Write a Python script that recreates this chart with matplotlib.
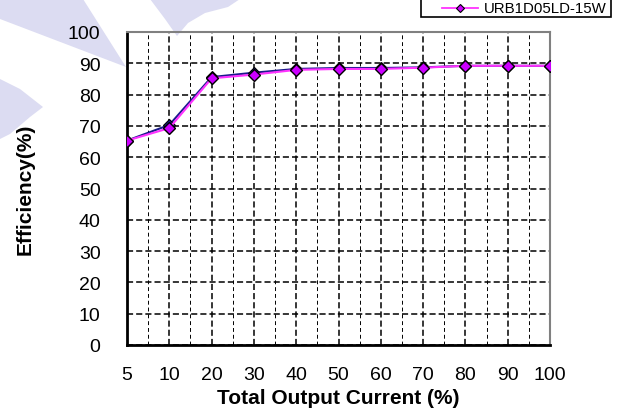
import matplotlib
matplotlib.use("Agg")
import matplotlib.pyplot as plt
from matplotlib.patches import Polygon, Rectangle
from matplotlib.lines import Line2D
import numpy as np

# data
load_labels = ["5", "10", "20", "30", "40", "50", "60", "70", "80", "90", "100"]
eff_15w = [65.3, 69.3, 85.2, 86.4, 87.9, 88.2, 88.2, 88.6, 89.2, 89.2, 89.2]
eff_other = [65.3, 70.3, 85.6, 87.0, 88.2, 88.5, 88.5, 88.7, 89.2, 89.2, 89.2]
y_ticks = [0, 10, 20, 30, 40, 50, 60, 70, 80, 90, 100]
legend_label = "URB1D05LD-15W"

W, H = 632, 414


def px(pts):
    # pixel coords (from top-left) -> figure fraction
    return [[x / W, 1 - y / H] for x, y in pts]


fig = plt.figure(figsize=(W / 100, H / 100), dpi=100)

# faint watermark shapes behind the chart
wm = "#dcdcf2"
for shape in [
    [(0, 0), (83, 0), (126, 68), (0, 20)],
    [(0, 80), (20, 90), (43, 108), (30, 118), (10, 135), (0, 140)],
    [(150, 0), (240, 0), (228, 8), (205, 14), (188, 24), (177, 37), (165, 20)],
]:
    fig.patches.append(Polygon(px(shape), closed=True, transform=fig.transFigure,
                               color=wm, lw=0, zorder=-5))

ax = fig.add_axes([127 / W, 1 - 346 / H, (550 - 127) / W, (346 - 33) / H])
ax.patch.set_alpha(0)

x = np.arange(len(load_labels))
ax.plot(x, eff_other, color="#1a1a8c", lw=1.5, marker="D", ms=6,
        mfc="#1a1a8c", mec="black", mew=0.8, zorder=3)
ax.plot(x, eff_15w, color="#ff33ff", lw=1.5, marker="D", ms=6.5,
        mfc="#cc00ff", mec="black", mew=1.0, zorder=4)

ax.set_xlim(0, len(load_labels) - 1)
ax.set_ylim(0, 100)
ax.set_xticks(x)
ax.set_xticklabels(load_labels)
ax.set_xticks(x[:-1] + 0.5, minor=True)
ax.set_yticks(y_ticks)
ax.xaxis.set_tick_params(which="both", length=0, pad=15)
ax.yaxis.set_tick_params(which="both", length=0, pad=19)
for lab in ax.get_xticklabels() + ax.get_yticklabels():
    lab.set_family("Liberation Sans")
    lab.set_fontsize(14)

ax.grid(True, which="major", axis="both", color="black", ls=(0, (4, 2)), lw=1.1)
ax.grid(True, which="minor", axis="x", color="black", ls=(0, (4, 3)), lw=0.7)

for side in ["top", "right"]:
    ax.spines[side].set_color("#808080")
    ax.spines[side].set_linewidth(1.5)
for side in ["left", "bottom"]:
    ax.spines[side].set_color("black")
    ax.spines[side].set_linewidth(2)

ax.set_xlabel("Total Output Current (%)", fontsize=15, fontweight="bold",
              family="Liberation Sans", labelpad=4)
ax.set_ylabel("Efficiency(%)", fontsize=15, fontweight="bold",
              family="Liberation Sans", labelpad=24)

# legend box at the top edge (its upper part lies beyond the picture)
fig.patches.append(Rectangle((421 / W, 1 - 18 / H), (611 - 421) / W, 30 / H,
                             transform=fig.transFigure, fill=True, fc="white",
                             ec="black", lw=1.2, zorder=5))
fig.lines.append(Line2D([442 / W, 478 / W], [1 - 9 / H, 1 - 9 / H],
                        transform=fig.transFigure, color="#ff33ff", lw=1.3, zorder=6))
fig.lines.append(Line2D([460 / W], [1 - 9 / H], transform=fig.transFigure,
                        marker="D", ms=4.5, mfc="#cc00ff", mec="black", mew=0.8,
                        ls="none", zorder=7))
fig.text(484 / W, 1 - 9 / H, legend_label, ha="left", va="center",
         fontsize=10.8, family="Liberation Sans", zorder=7)

fig.savefig("out.png", dpi=100)
